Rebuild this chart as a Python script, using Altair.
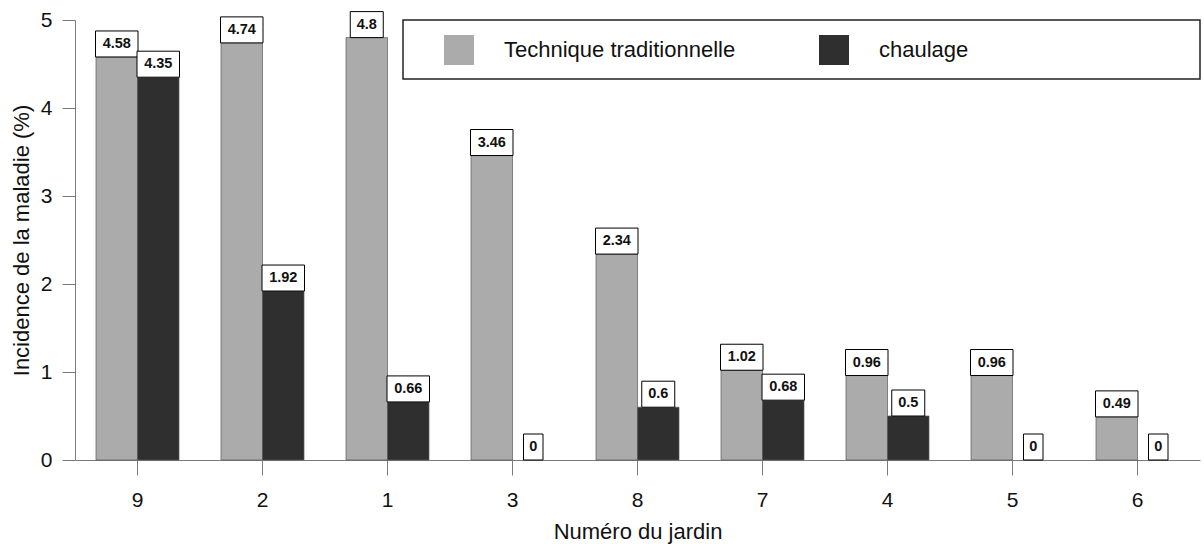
import altair as alt
import pandas as pd

# Garden numbers, in the order they are plotted
jardins = ["9", "2", "1", "3", "8", "7", "4", "5", "6"]
# Disease incidence (%) per technique
traditionnelle = [4.58, 4.74, 4.8, 3.46, 2.34, 1.02, 0.96, 0.96, 0.49]
chaulage = [4.35, 1.92, 0.66, 0, 0.6, 0.68, 0.5, 0, 0]
techniques = ["Technique traditionnelle", "chaulage"]
couleurs = ["#ababab", "#2f2f2f"]

FONT = "Liberation Sans"

rows = []
for j, a, b in zip(jardins, traditionnelle, chaulage):
    rows.append({"jardin": j, "technique": techniques[0], "incidence": a})
    rows.append({"jardin": j, "technique": techniques[1], "incidence": b})
df = pd.DataFrame(rows)

x_enc = alt.X(
    "jardin:N",
    sort=jardins,
    scale=alt.Scale(paddingInner=0.336, paddingOuter=0.168),
    axis=alt.Axis(
        title="Numéro du jardin",
        labelAngle=0,
        labelFontSize=21,
        labelPadding=14,
        tickSize=15,
        titleFontSize=22,
        titleFontWeight="normal",
        titlePadding=11,
    ),
)
xoff = alt.XOffset("technique:N", sort=techniques)
y_enc = alt.Y(
    "incidence:Q",
    scale=alt.Scale(domain=[0, 5], nice=False),
    axis=alt.Axis(
        title="Incidence de la maladie (%)",
        values=[0, 1, 2, 3, 4, 5],
        format="d",
        grid=False,
        labelFontSize=21,
        labelPadding=10,
        tickSize=13,
        titleFontSize=22,
        titleFontWeight="normal",
        titlePadding=7,
    ),
)

base = alt.Chart(df).encode(x=x_enc, xOffset=xoff)

# Zero values get no bar, only their value box
bars = base.transform_filter("datum.incidence > 0").mark_bar(
    stroke="#5a5a5a", strokeWidth=0.7
).encode(
    y=y_enc,
    color=alt.Color(
        "technique:N",
        sort=techniques,
        scale=alt.Scale(domain=techniques, range=couleurs),
        legend=alt.Legend(
            title=None,
            orient="none",
            legendX=369,
            legendY=15,
            direction="horizontal",
            symbolType="square",
            symbolSize=900,
            symbolStrokeWidth=0,
            labelFontSize=22,
            labelOffset=30,
            columnPadding=83,
            padding=0,
            labelLimit=400,
        ),
    ),
)

# White value boxes sitting on top of each bar; width follows the label length
labelled = base.transform_calculate(
    label="format(datum.incidence, '')",
).transform_calculate(n="length(datum.label)")

boxes = []
for n, w in [(1, 19.5), (3, 33), (4, 42.5)]:
    boxes.append(
        labelled.transform_filter(f"datum.n == {n}")
        .mark_bar(width=w, fill="white", stroke="black", strokeWidth=1, y2Offset=-26)
        .encode(y=alt.Y("incidence:Q"), y2="incidence:Q")
    )

texts = labelled.mark_text(
    dy=-13, baseline="middle", fontSize=14.5, fontWeight="bold", font=FONT, color="#111"
).encode(y=alt.Y("incidence:Q"), text="label:N")

frame = (
    alt.Chart(alt.Data(values=[{"k": 1}]))
    .mark_rect(fill="white", stroke="#222", strokeWidth=1.5)
    .encode(x=alt.value(328), x2=alt.value(1125), y=alt.value(0), y2=alt.value(59))
)

chart = (
    alt.layer(frame, bars, *boxes, texts)
    .properties(
        width=1125,
        height=440,
        autosize=alt.AutoSizeParams(type="none"),
        padding={"left": 75, "top": 20, "right": 4, "bottom": 84},
        background="white",
    )
    .configure_view(stroke=None)
    .configure_axis(
        domainColor="#7a7a7a",
        tickColor="#7a7a7a",
        labelColor="#111",
        titleColor="#111",
        labelFont=FONT,
        titleFont=FONT,
    )
    .configure_legend(labelFont=FONT, labelColor="#111")
)

chart.save("out.html", embed_options={"renderer": "svg", "actions": False})
